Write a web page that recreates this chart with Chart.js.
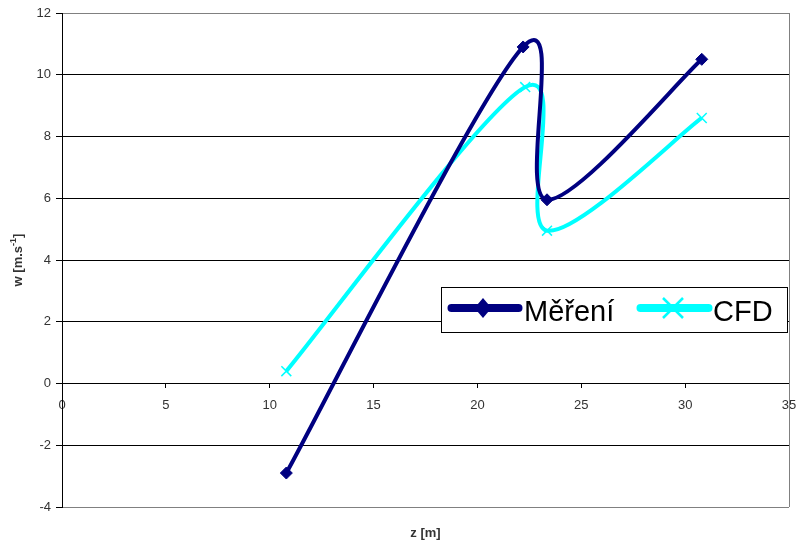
<!DOCTYPE html>
<html>
<head>
<meta charset="utf-8">
<script src="https://cdn.jsdelivr.net/npm/chart.js@4"></script>
<style>
  html, body { margin: 0; padding: 0; background: #fff; }
  #wrap { width: 800px; height: 542px; position: relative; }
</style>
</head>
<body>
<div id="wrap"><canvas id="myChart" width="800" height="542"></canvas></div>
<script>
// measured series: z [m] and w [m.s-1]
var mereniZ = [10.8, 22.2, 23.35, 30.8];
var mereniW = [-2.9, 10.9, 5.95, 10.5];
var cfdZ = [10.8, 22.3, 23.35, 30.8];
var cfdW = [0.4, 9.6, 4.95, 8.6];

var seriesNames = ["Měření", "CFD"];
var xTicks = [0, 5, 10, 15, 20, 25, 30, 35];
var yTicks = [-4, -2, 0, 2, 4, 6, 8, 10, 12];

var navy = "#000080";
var cyan = "#00FFFF";

function toPoints(xs, ys) {
  return xs.map(function (x, i) { return { x: x, y: ys[i] }; });
}

// Excel-like smoothing (Catmull-Rom style control points in pixel space)
var excelSmooth = {
  id: "excelSmooth",
  beforeDatasetsDraw: function (chart) {
    chart.data.datasets.forEach(function (ds, i) {
      var meta = chart.getDatasetMeta(i);
      meta.dataset.updateControlPoints(chart.chartArea, "x");
      var pts = meta.data;
      for (var k = 0; k < pts.length; k++) {
        var prev = pts[Math.max(k - 1, 0)];
        var next = pts[Math.min(k + 1, pts.length - 1)];
        var dx = (next.x - prev.x) / 6;
        var dy = (next.y - prev.y) / 6;
        pts[k].cp1x = pts[k].x - dx;
        pts[k].cp1y = pts[k].y - dy;
        pts[k].cp2x = pts[k].x + dx;
        pts[k].cp2y = pts[k].y + dy;
      }
    });
  }
};

// grey frame on the right side, axis titles and the boxed legend
var decorations = {
  id: "decorations",
  beforeDatasetsDraw: function (chart) {
    var a = chart.chartArea;
    var c = chart.ctx;
    c.save();
    c.strokeStyle = "#808080";
    c.lineWidth = 1;
    c.beginPath();
    c.moveTo(Math.round(a.right) + 0.5, a.top);
    c.lineTo(Math.round(a.right) + 0.5, a.bottom);
    c.stroke();
    c.restore();
  },
  afterDraw: function (chart) {
    var a = chart.chartArea;
    var c = chart.ctx;
    c.save();

    // x title
    c.fillStyle = "#333";
    c.font = "bold 13px 'Liberation Sans', Arial, sans-serif";
    c.textAlign = "center";
    c.textBaseline = "middle";
    c.fillText("z [m]", (a.left + a.right) / 2, 533);

    // y title with superscript
    c.translate(18, (a.top + a.bottom) / 2);
    c.rotate(-Math.PI / 2);
    var f1 = "bold 13px 'Liberation Sans', Arial, sans-serif";
    var f2 = "bold 9px 'Liberation Sans', Arial, sans-serif";
    c.font = f1;
    var w1 = c.measureText("w [m.s").width;
    var w3 = c.measureText("]").width;
    c.font = f2;
    var w2 = c.measureText("-1").width;
    var x0 = -(w1 + w2 + w3) / 2;
    c.textAlign = "left";
    c.textBaseline = "alphabetic";
    c.font = f1;
    c.fillText("w [m.s", x0, 4);
    c.font = f2;
    c.fillText("-1", x0 + w1, -2);
    c.font = f1;
    c.fillText("]", x0 + w1 + w2, 4);
    c.restore();

    // legend box
    c.save();
    var bx = a.right - 347.5, by = 287.5, bw = 346, bh = 45;
    c.fillStyle = "#fff";
    c.fillRect(bx, by, bw, bh);
    c.strokeStyle = "#000";
    c.lineWidth = 1;
    c.strokeRect(bx, by, bw, bh);
    var cy = 308;
    var ds = chart.data.datasets;
    c.lineCap = "round";

    // Měření sample
    c.strokeStyle = ds[0].borderColor;
    c.lineWidth = 8;
    c.beginPath();
    c.moveTo(bx + 10, cy);
    c.lineTo(bx + 77, cy);
    c.stroke();
    c.fillStyle = ds[0].borderColor;
    c.beginPath();
    var dxm = bx + 41.5;
    c.moveTo(dxm, cy - 10);
    c.lineTo(dxm + 8.5, cy);
    c.lineTo(dxm, cy + 10);
    c.lineTo(dxm - 8.5, cy);
    c.closePath();
    c.fill();

    // CFD sample
    c.strokeStyle = ds[1].borderColor;
    c.lineWidth = 8;
    c.beginPath();
    c.moveTo(bx + 199, cy);
    c.lineTo(bx + 267, cy);
    c.stroke();
    c.lineWidth = 2.5;
    c.lineCap = "butt";
    var xc = bx + 231.5;
    c.beginPath();
    c.moveTo(xc - 10, cy - 10);
    c.lineTo(xc + 10, cy + 10);
    c.moveTo(xc + 10, cy - 10);
    c.lineTo(xc - 10, cy + 10);
    c.stroke();

    c.fillStyle = "#000";
    c.font = "29px 'Liberation Sans', Arial, sans-serif";
    c.textAlign = "left";
    c.textBaseline = "alphabetic";
    c.fillText(ds[0].label, bx + 82.5, 320.5);
    c.fillText(ds[1].label, bx + 271.5, 320.5);
    c.restore();
  }
};

var ctx = document.getElementById("myChart").getContext("2d");

var myChart = new Chart(ctx, {
  type: "line",
  data: {
    datasets: [
      {
        label: seriesNames[0],
        data: toPoints(mereniZ, mereniW),
        borderColor: navy,
        backgroundColor: navy,
        borderWidth: 4,
        tension: 0.4,
        pointStyle: "rectRot",
        pointRadius: 6,
        pointBorderWidth: 1,
        pointBackgroundColor: navy,
        pointBorderColor: navy
      },
      {
        label: seriesNames[1],
        data: toPoints(cfdZ, cfdW),
        borderColor: cyan,
        backgroundColor: cyan,
        borderWidth: 4,
        tension: 0.4,
        pointStyle: "crossRot",
        pointRadius: 7,
        pointBorderWidth: 1.5,
        pointBorderColor: cyan
      }
    ]
  },
  plugins: [excelSmooth, decorations],
  options: {
    responsive: false,
    animation: false,
    events: [],
    layout: { padding: { left: 0, right: 11, top: 13, bottom: 35 } },
    plugins: {
      legend: { display: false },
      tooltip: { enabled: false }
    },
    scales: {
      x: {
        type: "linear",
        position: { y: 0 },
        min: xTicks[0],
        max: xTicks[xTicks.length - 1],
        afterBuildTicks: function (scale) {
          scale.ticks = xTicks.map(function (v) { return { value: v }; });
        },
        afterFit: function (scale) {
          scale.paddingLeft = 0;
          scale.paddingRight = 0;
        },
        grid: {
          drawOnChartArea: false,
          drawTicks: true,
          tickLength: 4,
          tickColor: "#000"
        },
        border: { color: "#000", width: 1 },
        ticks: {
          color: "#333",
          padding: 10,
          maxRotation: 0,
          font: { family: "'Liberation Sans', Arial, sans-serif", size: 13 }
        }
      },
      y: {
        type: "linear",
        min: yTicks[0],
        max: yTicks[yTicks.length - 1],
        afterBuildTicks: function (scale) {
          scale.ticks = yTicks.map(function (v) { return { value: v }; });
        },
        afterFit: function (scale) {
          scale.width = 62;
        },
        grid: {
          color: function (c) {
            var v = c.tick && c.tick.value;
            return (v === 12 || v === -4) ? "#808080" : "#000";
          },
          lineWidth: 1,
          tickLength: 6,
          tickColor: "#000"
        },
        border: { color: "#000", width: 1 },
        ticks: {
          color: "#333",
          padding: 5,
          font: { family: "'Liberation Sans', Arial, sans-serif", size: 13 }
        }
      }
    }
  }
});
</script>
</body>
</html>
